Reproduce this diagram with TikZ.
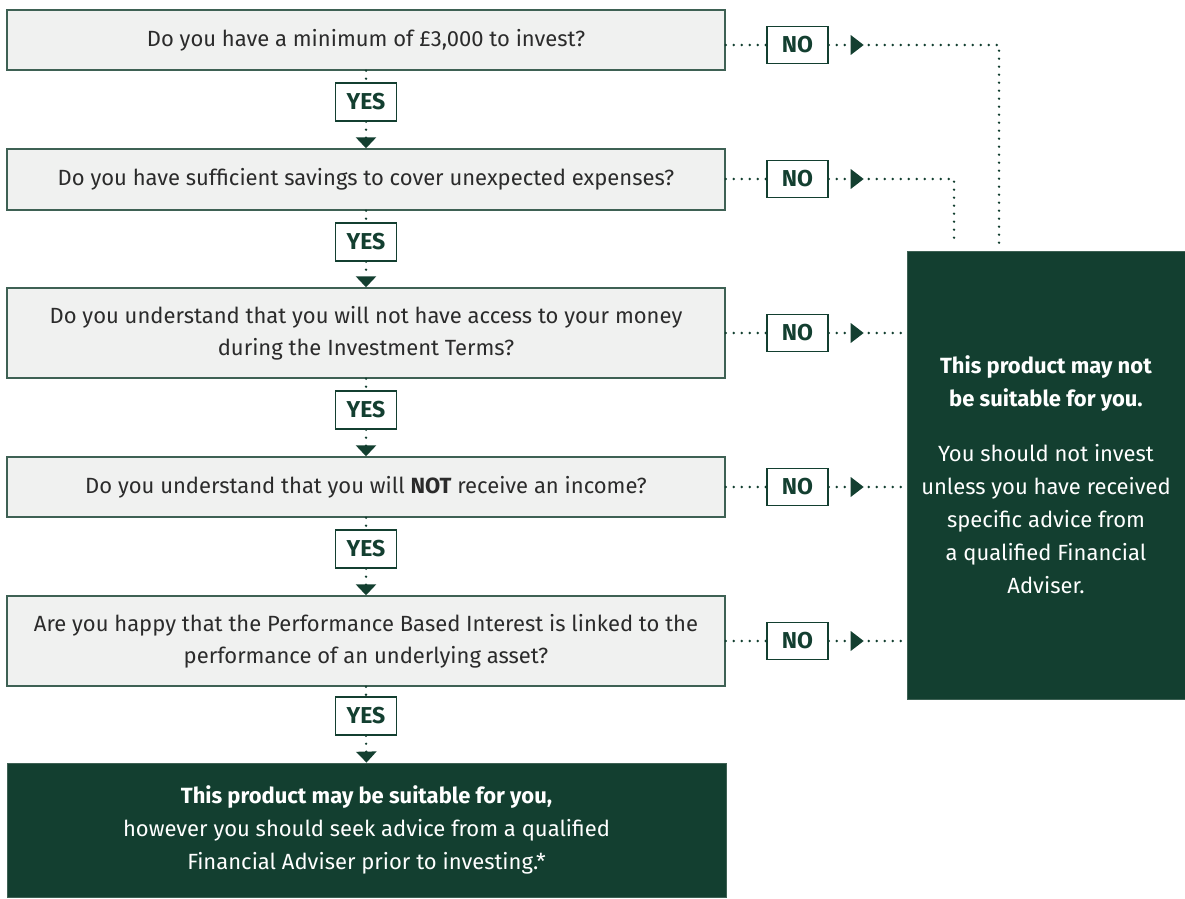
\documentclass[tikz,border=0pt]{standalone}
\usepackage{fontspec}
\setmainfont{Fira Sans}
\usetikzlibrary{arrows.meta,calc}
\definecolor{dkgreen}{HTML}{133F30}
\definecolor{qfill}{HTML}{F0F1F0}
\definecolor{qedge}{HTML}{3E6154}
\definecolor{qtext}{HTML}{2B2B2B}
\begin{document}
\begin{tikzpicture}[x=0.5pt,y=-0.5pt,
  question/.style={draw=qedge, fill=qfill, line width=0.7pt, minimum width=359pt,
    align=center, text=qtext, font=\fontsize{11}{16}\selectfont, inner sep=0pt},
  answer/.style={draw=dkgreen, fill=white, line width=0.7pt, minimum width=30.5pt,
    minimum height=19pt, inner sep=0pt, text=dkgreen, font=\fontsize{11.5}{12}\selectfont\bfseries},
  result/.style={fill=dkgreen, draw=qedge, line width=0.4pt, text=white, align=center,
    inner sep=0pt, font=\fontsize{11}{16.5}\selectfont},
  dots/.style={draw=dkgreen, line width=1.3pt, line cap=round, dash pattern=on 0pt off 4pt},
  down/.style={dots, -{Triangle[width=10pt,length=5.5pt]}},
]
\useasboundingbox (0,0) rectangle (1185,899);

% question boxes
\node[question, minimum height=30pt] (q1) at (366,40) {Do you have a minimum of £3,000 to invest?};
\node[question, minimum height=30.5pt] (q2) at (366,179.5) {Do you have sufficient savings to cover unexpected expenses?};
\node[question, minimum height=45pt] (q3) at (366,333) {Do you understand that you will not have access to your money\\during the Investment Terms?};
\node[question, minimum height=30pt] (q4) at (366,487) {Do you understand that you will \textbf{NOT} receive an income?};
\node[question, minimum height=45pt] (q5) at (366,641) {Are you happy that the Performance Based Interest is linked to the\\performance of an underlying asset?};

% outcomes
\node[result, minimum width=359.5pt, minimum height=67pt] (suit) at (366.5,830)
  {\textbf{This product may be suitable for you,}\\however you should seek advice from a qualified\\Financial Adviser prior to investing.*};
\node[result, minimum width=139pt, minimum height=224pt] (notsuit) at (1046,475)
  {\textbf{This product may not}\\\textbf{be suitable for you.}\\[11pt]You should not invest\\unless you have received\\specific advice from\\a qualified Financial\\Adviser.};

% YES answers
\node[answer] (yes1) at (366,102) {YES};
\node[answer] (yes2) at (366,242) {YES};
\node[answer] (yes3) at (366,410) {YES};
\node[answer] (yes4) at (366,549) {YES};
\node[answer] (yes5) at (366,716) {YES};

% NO answers
\node[answer, minimum height=18.5pt] (no1) at (797.5,45) {NO};
\node[answer, minimum height=18.5pt] (no2) at (797.5,179) {NO};
\node[answer, minimum height=18.5pt] (no3) at (797.5,333) {NO};
\node[answer, minimum height=18.5pt] (no4) at (797.5,487) {NO};
\node[answer, minimum height=18.5pt] (no5) at (797.5,641) {NO};

% YES path down the column
\draw[dots] (q1.south) -- (yes1.north);
\draw[down] (yes1.south) -- (q2.north);
\draw[dots] (q2.south) -- (yes2.north);
\draw[down] (yes2.south) -- (q3.north);
\draw[dots] (q3.south) -- (yes3.north);
\draw[down] (yes3.south) -- (q4.north);
\draw[dots] (q4.south) -- (yes4.north);
\draw[down] (yes4.south) -- (q5.north);
\draw[dots] (q5.south) -- (yes5.north);
\draw[down] (yes5.south) -- (suit.north);

% NO paths to the right
\coordinate (t1) at ($(notsuit.north)+(-47,-7)$);
\coordinate (t2) at ($(notsuit.north)+(-92,-7)$);
\foreach \i in {1,...,5}{
  \draw[dots] (q\i.east |- no\i) -- (no\i.west);
}
\draw[dots] (no1.east) -- (no1.east -| t1) -- (t1);
\draw[dots] (no2.east) -- (no2.east -| t2) -- (t2);
\foreach \i in {3,4,5}{
  \draw[dots] (no\i.east) -- (no\i.east -| notsuit.west);
}
\foreach \i in {1,...,5}{
  \fill[dkgreen] ($(no\i.east)+(22,-10)$) -- ++(13,10) -- ++(-13,10) -- cycle;
}
\end{tikzpicture}
\end{document}
